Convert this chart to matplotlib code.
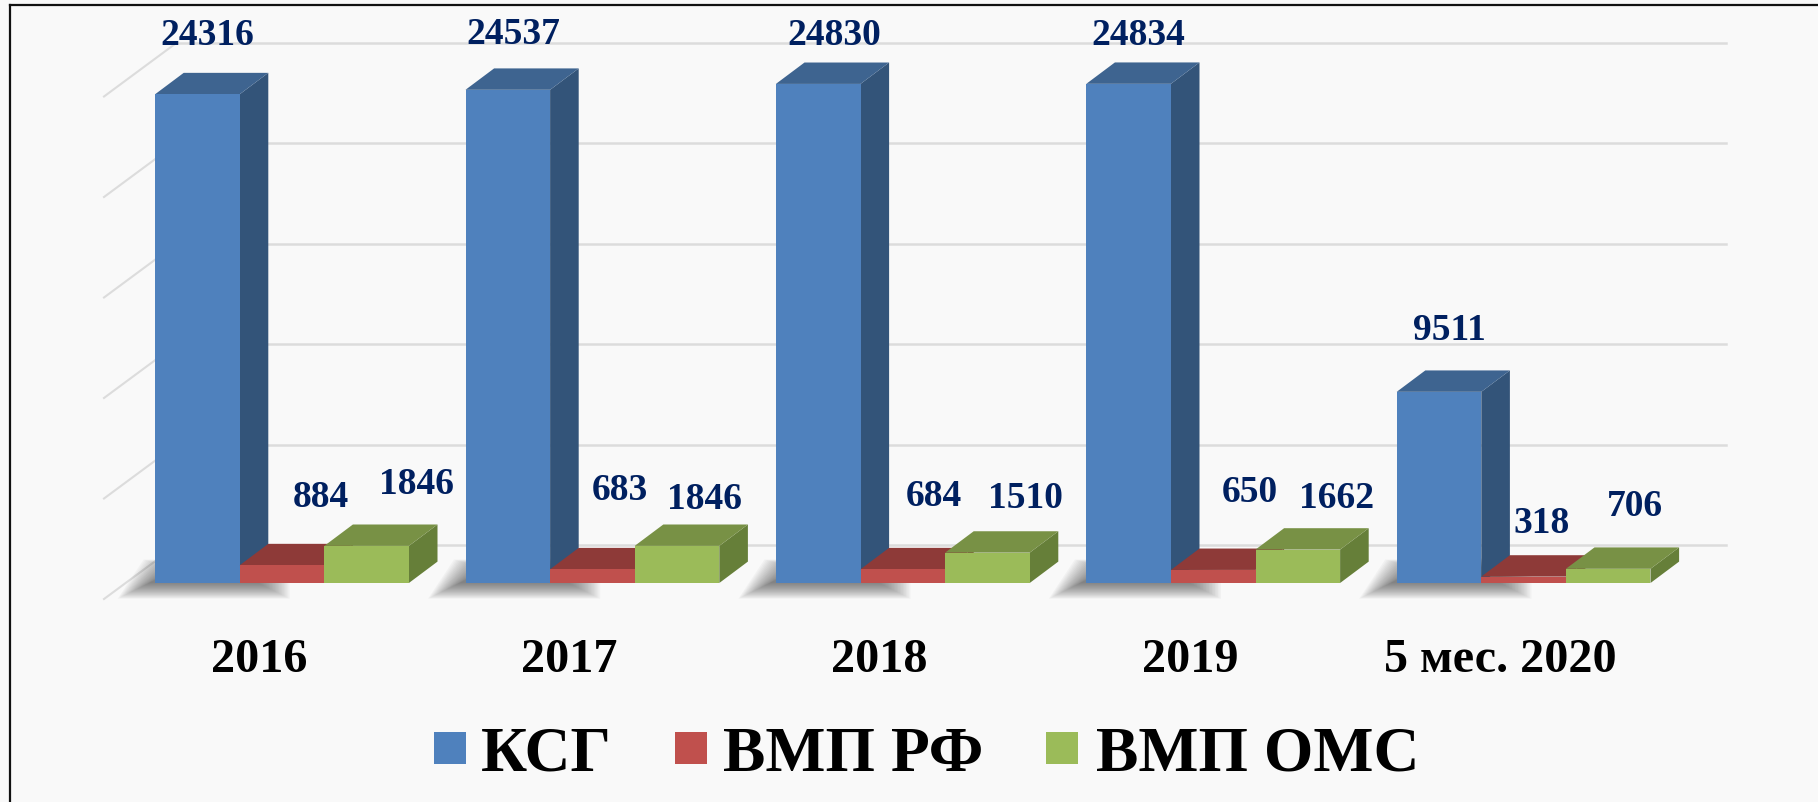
import matplotlib
matplotlib.use('Agg')
import matplotlib.pyplot as plt
from matplotlib.patches import Rectangle, Polygon

plt.rcParams['font.family'] = ['Liberation Serif', 'DejaVu Serif']
plt.rcParams['font.weight'] = 'bold'

categories = ['2016', '2017', '2018', '2019', '5 мес. 2020']
series_names = ['КСГ', 'ВМП РФ', 'ВМП ОМС']
ksg = [24316, 24537, 24830, 24834, 9511]
vmp_rf = [884, 683, 684, 650, 318]
vmp_oms = [1846, 1846, 1510, 1662, 706]
y_ticks = [0, 5000, 10000, 15000, 20000, 25000]

front = ['#4F81BD', '#C0504D', '#9BBB59']
side = ['#335479', '#7E3331', '#667F39']
top = ['#3E6490', '#8E3A38', '#789145']
label_color = '#002060'

# pixel layout of the 3d box
W, H = 1818, 803
x0, group_px = 282.0, 310.4
y0_px, val_px = 584.0, 0.0201
bar_w = 84.6 / group_px
dx = 28.6 / group_px
dy = 21.4 / val_px


def px_x(p):
    return p / group_px


def px_y(p):
    return p / val_px


# label offsets from the top centre of each bar, in pixels
ksg_off = [(10, 60), (6, 56), (16, 49), (10, 49), (10, 62)]
rf_off = [(39, 69), (27, 80), (31, 74), (37, 78), (18, 54)]
oms_off = [(50, 62), (28, 47), (38, 55), (39, 52), (27, 63)]

fig = plt.figure(figsize=(W / 100, H / 100), dpi=100, facecolor='#F9F9F9')
ax = fig.add_axes([0, (H - y0_px) / H, 1, y0_px / H])
ax.set_xlim(-x0 / group_px, (W - x0) / group_px)
ax.set_ylim(0, y0_px / val_px)
ax.set_facecolor('none')
for s in ax.spines.values():
    s.set_visible(False)
ax.set_yticks([])
ax.set_xticks([i - 0.075 for i in range(len(categories))], categories)
ax.tick_params(axis='x', length=0, pad=39, labelsize=34.7)

# walls: horizontal gridlines and the diagonals on the left
grid_c = '#DCDCDC'
back_l, back_r = px_x(177 - x0), px_x(1726 - x0)
front_l = px_x(104 - x0)
for v in y_ticks:
    ax.plot([back_l, back_r], [v + px_y(38)] * 2, color=grid_c, lw=1.8, zorder=1, clip_on=False)
    ax.plot([front_l, back_l], [v - px_y(16), v + px_y(38)], color=grid_c, lw=1.5, zorder=1, clip_on=False)

# soft shadows on the floor
for i in range(len(categories)):
    left = i - 1.5 * bar_w
    for k in range(22):
        g = k * 1.5
        pts = [(left - px_x(6 + g), -px_y(g * 0.5)),
               (left + bar_w + dx - px_x(10 - g), -px_y(g * 0.5)),
               (left + bar_w + dx - px_x(10 - g), px_y(16 + g * 0.3)),
               (left + px_x(20 - g), px_y(14 + g * 0.3))]
        ax.add_patch(Polygon(pts, closed=True, fc='#303030', ec='none', alpha=0.036,
                             zorder=2, clip_on=False))

# bars
for j, vals in enumerate([ksg, vmp_rf, vmp_oms]):
    xs = [i + (j - 1) * bar_w for i in range(len(categories))]
    for x, v in zip(xs, vals):
        l, r = x - bar_w / 2, x + bar_w / 2
        z = 3 + j
        ax.fill([r, r + dx, r + dx, r], [0, dy, v + dy, v], color=side[j], lw=0, zorder=z)
        ax.fill([l, r, r + dx, l + dx], [v, v, v + dy, v + dy], color=top[j], lw=0, zorder=z)
    ax.bar(xs, vals, width=bar_w, color=front[j], linewidth=0, zorder=3 + j)

for j, (vals, offs) in enumerate(zip([ksg, vmp_rf, vmp_oms], [ksg_off, rf_off, oms_off])):
    for i, (v, off) in enumerate(zip(vals, offs)):
        ax.annotate(str(v), xy=(i + (j - 1) * bar_w, v), xytext=(off[0] * 0.72, off[1] * 0.72),
                    textcoords='offset points', ha='center', va='center', fontsize=27,
                    color=label_color, zorder=10, annotation_clip=False)

# legend
swatch_x = [434, 675, 1046]
text_x = [481, 723, 1096]
for name, c, sx, tx in zip(series_names, front, swatch_x, text_x):
    fig.add_artist(Rectangle((sx / W, 1 - 765 / H), 32 / W, 32 / H, transform=fig.transFigure,
                             fc=c, ec='none'))
    fig.text(tx / W, 1 - 771 / H, name, fontsize=45.8, color='black', ha='left', va='baseline')

# frame of the slide
fig.add_artist(plt.Line2D([9.5 / W, 9.5 / W], [0, 1 - 6 / H], color='#111111', lw=1.6))
fig.add_artist(plt.Line2D([9.5 / W, 1], [1 - 6 / H, 1 - 6 / H], color='#111111', lw=1.6))

fig.savefig('out.png', dpi=100, facecolor=fig.get_facecolor())
